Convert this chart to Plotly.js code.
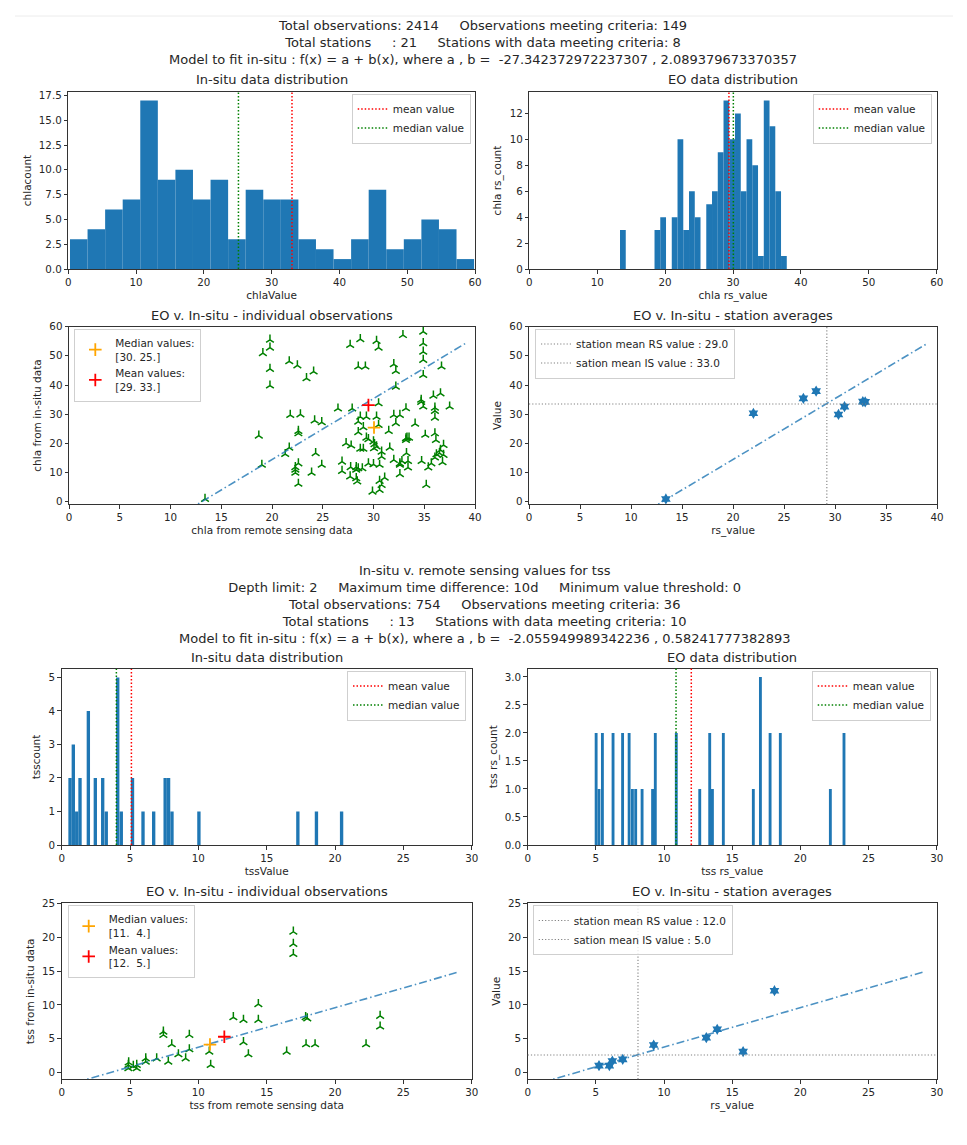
<!DOCTYPE html>
<html><head><meta charset="utf-8">
<script src="https://cdn.plot.ly/plotly-3.0.1.min.js"></script>
<style>html,body{margin:0;padding:0;background:#fff}</style>
</head><body><div id="chart" style="width:967px;height:1145px"></div>
<script>
// ================= DATA =================
// ---- chla block ----
const chlaHeaderLines = [
  'Total observations: 2414     Observations meeting criteria: 149',
  'Total stations     : 21     Stations with data meeting criteria: 8',
  'Model to fit in-situ : f(x) = a + b(x), where a , b =  -27.342372972237307 , 2.089379673370357'
];
const chlaFitA = -27.342372972237307;
const chlaFitB = 2.089379673370357;
const chlaFitXRange = [0, 39.1];

const chlaInsituBinStart = 0.25;
const chlaInsituBinWidth = 2.592;
const chlaInsituCounts = [3,4,6,7,17,9,10,7,9,3,8,7,7,3,2,1,3,8,2,3,5,4,1];
const chlaInsituMean = 33.0;
const chlaInsituMedian = 25.1;

const chlaRsBinStart = 13.36;
const chlaRsBinWidth = 0.8469;
const chlaRsCounts = [3,0,0,0,0,0,3,4,0,4,10,3,6,4,0,5,6,9,13,10,12,6,10,8,1,13,11,6,1];
const chlaRsMean = 29.4;
const chlaRsMedian = 30.05;

const chlaObsRs = [
  13.4,18.7,19.1,19.8,19.8,19.8,19.8,19.0,21.7,22.5,23.4,24.1,21.8,22.8,21.7,21.3,22.6,22.6,22.3,22.3,22.3,22.6,22.6,23.9,24.2,24.9,24.3,24.9,
  26.5,27.7,28.7,28.5,29.2,30.3,30.5,27.9,28.7,29.3,30.3,30.5,28.5,29.0,28.5,29.3,29.5,30.0,30.1,30.3,30.05,29.0,28.7,30.5,30.8,30.8,27.3,27.8,
  26.9,26.9,27.7,27.75,28.3,28.3,28.5,28.3,28.4,28.9,29.5,30.0,30.6,30.6,30.8,30.6,29.9,31.1,
  31.6,31.5,32.0,32.6,32.2,33.2,34.1,32.0,32.6,32.6,32.8,33.4,33.4,33.25,33.2,33.3,33.5,33.2,32.6,32.9,34.9,34.9,34.9,34.9,34.9,36.7,
  32.0,32.2,32.2,34.7,34.9,35.9,36.6,36.05,36.05,36.05,37.5,34.74,35.1,35.2,35.4,35.7,36.05,36.2,36.05,36.15,36.6,36.9,36.9,36.8,36.5,34.7
];
const chlaObsInsitu = [
  0.9,22.6,50.9,55.5,52.8,45.5,39.8,12.6,48.1,46.7,42.3,44.6,29.7,29.9,18.5,16.3,24.2,23.4,11.8,10.9,9.9,13.1,6.1,9.9,27.8,27.2,16.6,12.6,
  31.9,53.7,55.7,46.3,46.3,55.1,52.8,31.9,29.1,29.1,29.1,33.7,27.4,25.5,23.8,21.9,21.4,20.6,19.7,18.9,18.3,18.1,18.1,26.3,17.1,15.4,20.0,19.2,
  13.7,10.5,8.6,11.8,11.8,10.9,11.4,8.0,6.9,11.4,13.1,12.8,12.6,7.1,5.7,4.0,3.4,8.2,
  18.5,24.2,29.7,29.7,26.9,32.0,26.7,14.3,13.1,12.6,13.9,13.9,11.7,16.6,21.7,21.9,21.9,21.1,9.4,57.1,58.3,54.3,51.4,48.6,43.4,46.3,
  47.1,44.8,39.4,34.9,32.6,36.3,37.1,32.2,31.1,28.8,32.6,13.9,22.9,5.7,11.7,13.1,15.1,16.2,23.4,21.1,17.7,19.4,16.0,13.5,16.6,34.2
];
const chlaMedianPoint = [30.05, 25.4];
const chlaMeanPoint = [29.5, 33.1];
const chlaMedianLabel = 'Median values:<br>[30. 25.]';
const chlaMeanLabel = 'Mean values:<br>[29. 33.]';

const chlaStationRs = [13.42, 22.0, 26.9, 28.15, 30.34, 30.93, 32.73, 32.96];
const chlaStationInsitu = [0.91, 30.3, 35.4, 37.9, 29.9, 32.6, 34.3, 34.2];
const chlaStationMeanRs = 29.2;
const chlaStationMeanInsitu = 33.5;
const chlaStationRsLabel = 'station mean RS value : 29.0';
const chlaStationIsLabel = 'sation mean IS value : 33.0';

// ---- tss block ----
const tssHeaderLines = [
  'In-situ v. remote sensing values for tss',
  'Depth limit: 2     Maximum time difference: 10d     Minimum value threshold: 0',
  'Total observations: 754     Observations meeting criteria: 36',
  'Total stations     : 13     Stations with data meeting criteria: 10',
  'Model to fit in-situ : f(x) = a + b(x), where a , b =  -2.055949989342236 , 0.58241777382893'
];
const tssFitA = -2.055949989342236;
const tssFitB = 0.58241777382893;
const tssFitXRange = [0, 29.0];

const tssInsituBinCenters = [0.61,0.85,1.10,1.34,1.95,2.46,3.0,3.26,4.10,4.36,5.18,5.95,6.73,7.57,7.82,8.07,10.04,17.28,18.64,20.48];
const tssInsituCounts     = [2,3,1,2,4,2,2,1,5,1,2,1,1,2,2,1,1,1,1,1];
const tssInsituBinWidth = 0.245;
const tssInsituMean = 5.1;
const tssInsituMedian = 4.0;

const tssRsBinCenters = [5.02,5.23,5.48,6.26,6.96,7.44,7.68,7.92,8.39,9.16,9.36,10.9,12.62,13.35,13.55,14.35,16.55,17.07,17.78,18.53,22.2,23.2];
const tssRsCounts     = [2,1,2,2,2,2,1,1,1,1,2,2,1,2,1,2,1,3,2,2,1,2];
const tssRsBinWidth = 0.21;
const tssRsMean = 12.0;
const tssRsMedian = 10.88;

const tssObsRs = [4.88,4.88,4.9,5.24,5.49,5.49,6.15,6.15,6.95,7.8,7.44,7.44,8.05,8.54,9.07,9.34,9.34,10.8,10.9,12.56,13.3,13.3,13.66,14.39,14.39,16.46,16.95,16.95,16.95,17.85,17.97,17.88,18.54,22.27,23.3,23.3];
const tssObsInsitu = [0.64,1.13,1.5,0.98,0.64,1.13,1.62,2.1,2.1,1.62,6.05,5.56,4.18,2.7,2.1,5.56,3.44,3.1,1.13,8.17,7.78,4.5,2.7,10.1,7.78,3.1,20.8,19.0,17.5,8.17,8.0,4.18,4.18,4.18,8.37,6.8];
const tssMedianPoint = [10.85, 4.15];
const tssMeanPoint = [11.9, 5.3];
const tssMedianLabel = 'Median values:<br>[11.  4.]';
const tssMeanLabel = 'Mean values:<br>[12.  5.]';

const tssStationRs = [5.23, 5.99, 6.21, 6.97, 9.24, 13.1, 13.9, 15.8, 18.1];
const tssStationInsitu = [1.03, 1.03, 1.72, 1.97, 4.08, 5.17, 6.4, 3.1, 12.1];
const tssStationMeanRs = 8.09;
const tssStationMeanInsitu = 2.61;
const tssStationRsLabel = 'station mean RS value : 12.0';
const tssStationIsLabel = 'sation mean IS value : 5.0';

const subplotTitles = ['In-situ data distribution', 'EO data distribution', 'EO v. In-situ - individual observations', 'EO v. In-situ - station averages'];
const legendHistLabels = ['mean value', 'median value'];

// ================= BUILD =================
const FONT = 'DejaVu Sans';
const TXT = '#262626';
const W = 967, H = 1145;
const px = v => v / W;
const py = v => 1 - v / H;
const keepSpaces = s => s.replace(/ {2,}/g, m => '\u00a0'.repeat(m.length));
const centers = (start, w, n) => Array.from({length: n}, (_, i) => start + (i + 0.5) * w);
const fitLine = (a, b, xr) => ({x: xr, y: xr.map(v => a + b * v)});

const BLUE = '#1f77b4';
const dotted = '1.5px,2px';
const grayDot = '1.2px,2px';
const dashDot = '8px,3px,1.5px,3px';

const traces = [];
function bars(x, y, w, ax) {
  traces.push({type: 'bar', x, y, width: w, marker: {color: BLUE, line: {width: 0}},
    xaxis: 'x' + ax, yaxis: 'y' + ax, showlegend: false, hoverinfo: 'skip'});
}
function obsScatter(x, y, ax) {
  traces.push({type: 'scatter', mode: 'markers', x, y, xaxis: 'x' + ax, yaxis: 'y' + ax, showlegend: false,
    marker: {symbol: 'y-up', size: 6.5, color: 'green', line: {color: 'green', width: 1.5}}, cliponaxis: true});
}
function fit(a, b, xr, ax) {
  const l = fitLine(a, b, xr);
  traces.push({type: 'scatter', mode: 'lines', x: l.x, y: l.y, xaxis: 'x' + ax, yaxis: 'y' + ax, showlegend: false,
    line: {color: 'rgba(31,119,180,0.8)', width: 1.6, dash: dashDot}});
}
function cross(pt, color, name, ax, leg) {
  traces.push({type: 'scatter', mode: 'markers', x: [pt[0]], y: [pt[1]], xaxis: 'x' + ax, yaxis: 'y' + ax,
    name, legend: leg, showlegend: true,
    marker: {symbol: 'cross-thin', size: 9, color, line: {color, width: 1.8}}});
}
function stations(x, y, ax) {
  traces.push({type: 'scatter', mode: 'markers', x, y, xaxis: 'x' + ax, yaxis: 'y' + ax, showlegend: false,
    marker: {symbol: 'hexagram', size: 8.5, color: BLUE, line: {width: 0}}});
}

const shapes = [];
function vline(xv, color, dash, name, ax, leg, w) {
  shapes.push({type: 'line', xref: 'x' + ax, yref: 'y' + ax + ' domain', x0: xv, x1: xv, y0: 0, y1: 1,
    line: {color, width: w, dash}, showlegend: true, legend: leg, name});
}
function hline(yv, color, dash, name, ax, leg, w) {
  shapes.push({type: 'line', xref: 'x' + ax + ' domain', yref: 'y' + ax, x0: 0, x1: 1, y0: yv, y1: yv,
    line: {color, width: w, dash}, showlegend: true, legend: leg, name});
}

// chla
bars(centers(chlaInsituBinStart, chlaInsituBinWidth, chlaInsituCounts.length), chlaInsituCounts, chlaInsituBinWidth, '');
vline(chlaInsituMean, 'red', dotted, legendHistLabels[0], '', 'legend', 1.5);
vline(chlaInsituMedian, 'green', dotted, legendHistLabels[1], '', 'legend', 1.5);

bars(centers(chlaRsBinStart, chlaRsBinWidth, chlaRsCounts.length), chlaRsCounts, chlaRsBinWidth, '2');
vline(chlaRsMean, 'red', dotted, legendHistLabels[0], '2', 'legend2', 1.5);
vline(chlaRsMedian, 'green', dotted, legendHistLabels[1], '2', 'legend2', 1.5);

obsScatter(chlaObsRs, chlaObsInsitu, '3');
fit(chlaFitA, chlaFitB, chlaFitXRange, '3');
cross(chlaMedianPoint, 'orange', chlaMedianLabel, '3', 'legend3');
cross(chlaMeanPoint, 'red', chlaMeanLabel, '3', 'legend3');

stations(chlaStationRs, chlaStationInsitu, '4');
fit(chlaFitA, chlaFitB, chlaFitXRange, '4');
vline(chlaStationMeanRs, 'grey', grayDot, chlaStationRsLabel, '4', 'legend4', 1.1);
hline(chlaStationMeanInsitu, 'grey', grayDot, chlaStationIsLabel, '4', 'legend4', 1.1);

// tss
bars(tssInsituBinCenters, tssInsituCounts, tssInsituBinWidth, '5');
vline(tssInsituMean, 'red', dotted, legendHistLabels[0], '5', 'legend5', 1.5);
vline(tssInsituMedian, 'green', dotted, legendHistLabels[1], '5', 'legend5', 1.5);

bars(tssRsBinCenters, tssRsCounts, tssRsBinWidth, '6');
vline(tssRsMean, 'red', dotted, legendHistLabels[0], '6', 'legend6', 1.5);
vline(tssRsMedian, 'green', dotted, legendHistLabels[1], '6', 'legend6', 1.5);

obsScatter(tssObsRs, tssObsInsitu, '7');
fit(tssFitA, tssFitB, tssFitXRange, '7');
cross(tssMedianPoint, 'orange', tssMedianLabel, '7', 'legend7');
cross(tssMeanPoint, 'red', tssMeanLabel, '7', 'legend7');

stations(tssStationRs, tssStationInsitu, '8');
fit(tssFitA, tssFitB, tssFitXRange, '8');
vline(tssStationMeanRs, 'grey', grayDot, tssStationRsLabel, '8', 'legend8', 1.1);
hline(tssStationMeanInsitu, 'grey', grayDot, tssStationIsLabel, '8', 'legend8', 1.1);

// faint separator line at the very top of the page
shapes.push({type: 'line', xref: 'paper', yref: 'paper', x0: px(15), x1: px(953), y0: py(16), y1: py(16),
  line: {color: '#ececec', width: 1}});

// axes
const axisBase = {
  showline: true, mirror: true, linecolor: '#333', linewidth: 1,
  ticks: 'outside', ticklen: 3.5, tickwidth: 1, tickcolor: '#333',
  showgrid: false, zeroline: false, fixedrange: true,
  tickfont: {family: FONT, size: 10.3, color: TXT}
};
function xAxis(l, r, range, dtick, text, anchor) {
  return Object.assign({}, axisBase, {domain: [px(l), px(r)], range, tick0: 0, dtick, anchor,
    title: {text, font: {family: FONT, size: 10.5, color: TXT}, standoff: 4}});
}
function yAxis(t, b, range, dtick, text, anchor, fmt) {
  return Object.assign({}, axisBase, {domain: [py(b), py(t)], range, tick0: 0, dtick, anchor,
    tickformat: fmt || '', title: {text, font: {family: FONT, size: 10.5, color: TXT}, standoff: 5}});
}

const layout = {
  width: W, height: H, margin: {l: 0, r: 0, t: 0, b: 0},
  paper_bgcolor: '#fff', plot_bgcolor: '#fff',
  font: {family: FONT, color: TXT},
  xaxis:  xAxis(68.3, 475, [0, 60], 10, 'chlaValue', 'y'),
  yaxis:  yAxis(92, 269, [0, 17.85], 2.5, 'chlacount', 'x', '.1f'),
  xaxis2: xAxis(529.3, 936.7, [0, 60], 10, 'chla rs_value', 'y2'),
  yaxis2: yAxis(92, 269, [0, 13.65], 2, 'chla rs_count', 'x2'),
  xaxis3: xAxis(69, 475, [0, 40], 5, 'chla from remote sensing data', 'y3'),
  yaxis3: yAxis(326.7, 504.3, [-0.92, 60], 10, 'chla from in-situ data', 'x3'),
  xaxis4: xAxis(529, 937, [0, 40], 5, 'rs_value', 'y4'),
  yaxis4: yAxis(326.7, 504.3, [-0.92, 60], 10, 'Value', 'x4'),
  xaxis5: xAxis(61.7, 471.7, [0, 30], 5, 'tssValue', 'y5'),
  yaxis5: yAxis(669, 845, [0, 5.25], 1, 'tsscount', 'x5'),
  xaxis6: xAxis(527.7, 936.7, [0, 30], 5, 'tss rs_value', 'y6'),
  yaxis6: yAxis(668.5, 845, [0, 3.15], 0.5, 'tss rs_count', 'x6', '.1f'),
  xaxis7: xAxis(61.7, 471.7, [0, 30], 5, 'tss from remote sensing data', 'y7'),
  yaxis7: yAxis(903.3, 1079.3, [-0.98, 25], 5, 'tss from in-situ data', 'x7'),
  xaxis8: xAxis(527.7, 936.7, [0, 30], 5, 'rs_value', 'y8'),
  yaxis8: yAxis(903.3, 1079.3, [-0.98, 25], 5, 'Value', 'x8'),
  shapes,
  showlegend: true
};

function legendAt(xPx, yPx, xanchor) {
  return {x: px(xPx), y: py(yPx), xanchor, yanchor: 'top', xref: 'paper', yref: 'paper',
    bgcolor: 'rgba(255,255,255,0.8)', bordercolor: '#cfcfcf', borderwidth: 1,
    font: {family: FONT, size: 10.5, color: TXT}, itemclick: false, itemdoubleclick: false};
}
layout.legend  = legendAt(470.7, 93.5, 'right');
layout.legend2 = legendAt(931.7, 93.5, 'right');
layout.legend3 = legendAt(74.3, 328.5, 'left');
layout.legend4 = legendAt(535, 328.5, 'left');
layout.legend5 = legendAt(466, 670.5, 'right');
layout.legend6 = legendAt(930.7, 670.5, 'right');
layout.legend7 = legendAt(67.7, 905, 'left');
layout.legend8 = legendAt(532.7, 905, 'left');

const ann = [];
function title(text, cx, cy) {
  ann.push({text, xref: 'paper', yref: 'paper', x: px(cx), y: py(cy), xanchor: 'center', yanchor: 'middle',
    showarrow: false, font: {family: FONT, size: 13, color: TXT}});
}
title(chlaHeaderLines.map(keepSpaces).join('<br>'), 483, 42.3);
title(tssHeaderLines.map(keepSpaces).join('<br>'), 484, 604);
title(subplotTitles[0], 271.7, 80);
title(subplotTitles[1], 733, 80);
title(subplotTitles[2], 272, 315.5);
title(subplotTitles[3], 733, 315.5);
title(subplotTitles[0], 266.7, 657);
title(subplotTitles[1], 732.2, 657);
title(subplotTitles[2], 266.7, 891.5);
title(subplotTitles[3], 732.2, 891.5);
layout.annotations = ann;

Plotly.newPlot('chart', traces, layout, {staticPlot: true, displayModeBar: false});
</script></body></html>
